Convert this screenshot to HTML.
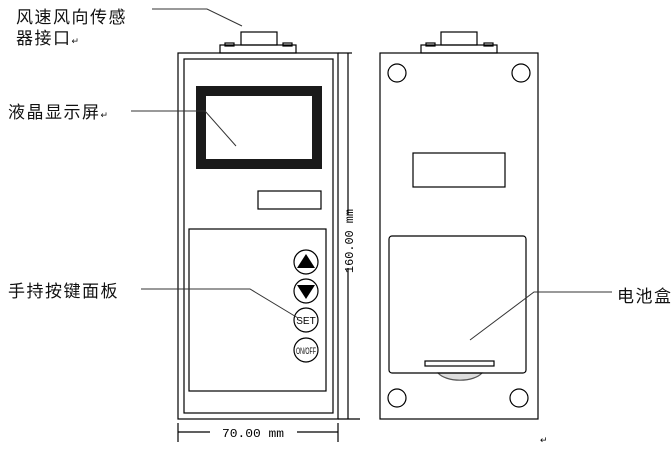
<!DOCTYPE html>
<html><head><style>
body{margin:0;background:#fff;}
svg{display:block}
.cj{font-family:"Liberation Sans","Noto Sans CJK SC",sans-serif;font-size:17px;letter-spacing:1.5px;fill:#111}
.mono{font-family:"Liberation Mono",monospace;font-size:12px}
.sans{font-family:"Liberation Sans",sans-serif}
</style></head><body>
<svg width="672" height="452" viewBox="0 0 672 452" xmlns="http://www.w3.org/2000/svg">
<g fill="none" stroke="#000" stroke-width="1.2">
<rect x="241" y="32" width="36" height="13"/>
<rect x="220" y="45" width="76" height="8"/>
<rect x="225" y="43" width="9" height="3"/>
<rect x="283" y="43" width="9" height="3"/>
<rect x="178" y="53" width="160" height="366"/>
<rect x="184" y="59" width="149" height="354"/>
<rect x="201" y="91" width="116" height="73" stroke-width="10" stroke="#1a1a1a"/>
<rect x="258" y="191" width="63" height="18"/>
<rect x="189" y="229" width="137" height="162"/>
<circle cx="306" cy="262" r="12"/>
<circle cx="306" cy="291" r="12"/>
<circle cx="306" cy="320" r="12"/>
<circle cx="306" cy="350" r="12"/>
<line x1="338" y1="53" x2="352" y2="53"/>
<line x1="348" y1="53" x2="348" y2="215"/>
<line x1="348" y1="268" x2="348" y2="419"/>
<line x1="338" y1="419" x2="360" y2="419"/>
<line x1="178" y1="423" x2="178" y2="442"/>
<line x1="338" y1="423" x2="338" y2="442"/>
<line x1="178" y1="432" x2="210" y2="432"/>
<line x1="297" y1="432" x2="338" y2="432"/>
<rect x="441" y="32" width="36" height="13"/>
<rect x="421" y="45" width="76" height="8"/>
<rect x="426" y="43" width="9" height="3"/>
<rect x="484" y="43" width="9" height="3"/>
<rect x="380" y="53" width="158" height="366"/>
<circle cx="397" cy="73" r="9"/>
<circle cx="521" cy="73" r="9"/>
<circle cx="397" cy="398" r="9"/>
<circle cx="519" cy="398" r="9"/>
<rect x="413" y="153" width="92" height="34"/>
<path d="M438 373 A24 12 0 0 0 482 373 Z" fill="#ddd" stroke="#555"/>
<rect x="389" y="236" width="137" height="137" rx="3"/>
<rect x="425" y="361" width="69" height="5"/>
</g>
<polygon points="306,254 297,268 315,268" fill="#000"/>
<polygon points="306,299 297,285 315,285" fill="#000"/>
<text class="sans" x="306" y="324" font-size="10" text-anchor="middle">SET</text>
<text class="sans" x="306" y="354" font-size="9" text-anchor="middle" textLength="20" lengthAdjust="spacingAndGlyphs">ON/OFF</text>
<g fill="none" stroke="#333" stroke-width="1">
<polyline points="152,9 207,9 242,26"/>
<polyline points="131,111 205,111 236,146"/>
<polyline points="141,289 250,289 298,318"/>
<polyline points="612,292 534,292 470,340"/>
</g>
<text class="cj" x="16" y="23">风速风向传感</text>
<text class="cj" x="16" y="44">器接口<tspan font-size="9">↵</tspan></text>
<text class="cj" x="8" y="118">液晶显示屏<tspan font-size="9">↵</tspan></text>
<text class="cj" x="8" y="297">手持按键面板</text>
<text class="cj" x="617" y="302">电池盒</text>
<text class="mono" x="253" y="437" text-anchor="middle" textLength="62" lengthAdjust="spacingAndGlyphs">70.00 mm</text>
<text class="mono" transform="translate(353,241) rotate(-90)" text-anchor="middle" textLength="64" lengthAdjust="spacingAndGlyphs">160.00 mm</text>
<text class="sans" x="540" y="443" font-size="9">↵</text>
</svg>
</body></html>
